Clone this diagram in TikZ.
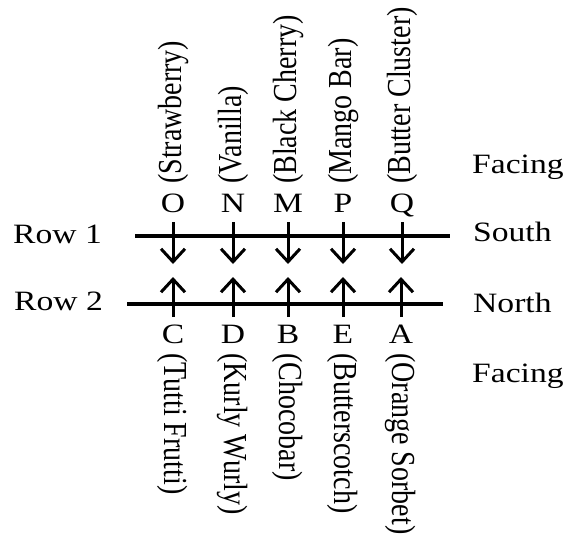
\documentclass[tikz,border=0pt]{standalone}
\usepackage{fontspec}
\usepackage{graphicx}
\setmainfont{Liberation Serif}
\usetikzlibrary{arrows.meta}
\newcommand{\hs}[1]{\scalebox{1.2}[1]{#1}}
\newcommand{\vup}[1]{\scalebox{1.2}[1]{\rotatebox{90}{#1}}}
\newcommand{\vdn}[1]{\scalebox{1.2}[1]{\rotatebox{-90}{#1}}}
\tikzset{
  lbl/.style={inner sep=0pt, font=\fontsize{28}{30}\selectfont},
  rowline/.style={line width=3.2pt},
  arr/.style={line width=3pt, -{Straight Barb[length=13pt,width=24pt]}},
}
\begin{document}
\begin{tikzpicture}[x=1pt,y=-1pt]
\useasboundingbox (0,0) rectangle (568,538);
% row labels
\node[lbl, anchor=base west] (row1) at (13,243) {\hs{Row 1}};
\node[lbl, anchor=base west] (row2) at (14,310) {\hs{Row 2}};
\node[lbl, anchor=base west] (south) at (473,241) {\hs{South}};
\node[lbl, anchor=base west] (north) at (473,312) {\hs{North}};
\node[lbl, anchor=base west] (face1) at (472,173) {\hs{Facing}};
\node[lbl, anchor=base west] (face2) at (472,382) {\hs{Facing}};
% row lines
\coordinate (r1a) at (135,236); \coordinate (r1b) at (450,236);
\coordinate (r2a) at (127,304); \coordinate (r2b) at (443,304);
\draw[rowline] (r1a) -- (r1b);
\draw[rowline] (r2a) -- (r2b);
% row 1 persons
\foreach \n/\x/\name/\lab in {o/173/O/(Strawberry), n/233/N/(Vanilla), m/288/M/(Black Cherry), p/343/P/(Mango Bar), q/402/Q/(Butter Cluster)}{
  \node[lbl, anchor=base] (\n) at (\x,212) {\hs{\name}};
  \node[lbl, anchor=south] (\n t) at (\x,184) {\vup{\lab}};
  \coordinate (\n s) at (\x,222);
  \coordinate (\n e) at (\x,264);
  \draw[arr] (\n s) -- (\n e);
}
% row 2 persons
\foreach \n/\x/\name/\lab in {c/173/C/(Tutti Frutti), d/233/D/(Kurly Wurly), b/288/B/(Chocobar), e/343/E/(Butterscotch), a/401/A/(Orange Sorbet)}{
  \node[lbl, anchor=base] (\n) at (\x,343) {\hs{\name}};
  \node[lbl, anchor=north] (\n t) at (\x,353) {\vdn{\lab}};
  \coordinate (\n s) at (\x,317);
  \coordinate (\n e) at (\x,277);
  \draw[arr] (\n s) -- (\n e);
}
\end{tikzpicture}
\end{document}
